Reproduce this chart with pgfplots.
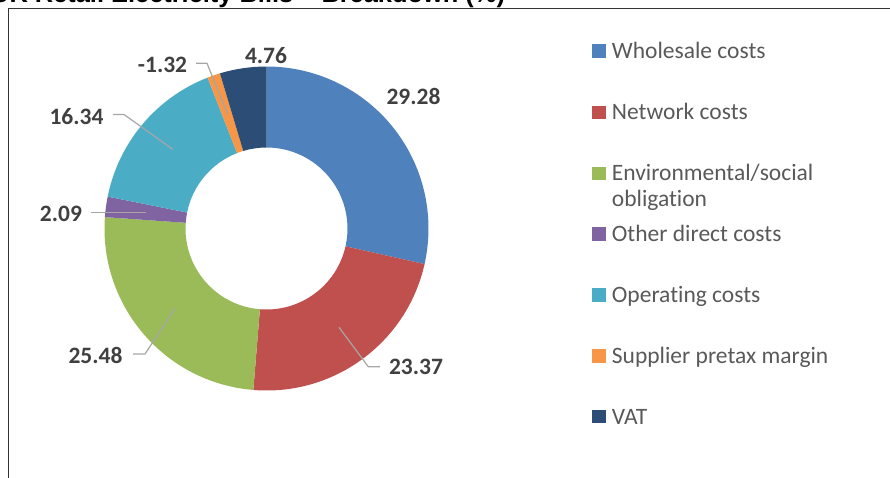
\documentclass[border=0pt]{standalone}
\usepackage{pgfplots}
\usepackage{pgfplotstable}
\pgfplotsset{compat=1.18}
\usepackage{fontspec}
\setmainfont{Carlito}[Ligatures=NoCommon]
\newfontfamily\titlefont{Liberation Sans}

\definecolor{cWhole}{HTML}{4F81BD}
\definecolor{cNet}{HTML}{C0504D}
\definecolor{cEnv}{HTML}{9BBB59}
\definecolor{cOther}{HTML}{8064A2}
\definecolor{cOper}{HTML}{4BACC6}
\definecolor{cMargin}{HTML}{F79646}
\definecolor{cVat}{HTML}{2C4D75}
\definecolor{lbl}{HTML}{404040}
\definecolor{leg}{HTML}{595959}
\definecolor{leader}{HTML}{A6A6A6}

% slice values (%), label position in picture pixels
\pgfplotstableread{
id  val    lx     ly
0   29.28  413.5  96
1   23.37  416    367
2   25.48  95.5   355.5
3   2.09   61     213.5
4   16.34  76.5   117
5   -1.32  162.5  65
6   4.76   266    56
}\piedata

\begin{document}
\begin{tikzpicture}
\useasboundingbox (0,0) rectangle (890pt,477pt);
\clip (0,0) rectangle (890pt,477pt);

% angles: Excel starts at the top and goes clockwise, using |value|
\def\tot{0}
\pgfplotsforeachungrouped \i in {0,...,6}{%
  \pgfplotstablegetelem{\i}{val}\of\piedata
  \pgfmathsetmacro\tot{\tot+abs(\pgfplotsretval)}%
}
\pgfmathsetmacro\degper{360/\tot}
\def\cum{0}
\pgfplotsforeachungrouped \i in {0,...,6}{%
  \pgfplotstablegetelem{\i}{val}\of\piedata
  \let\v\pgfplotsretval
  \pgfmathsetmacro\angA{90-\cum*\degper}%
  \pgfmathsetmacro\cum{\cum+abs(\v)}%
  \pgfmathsetmacro\angB{90-\cum*\degper}%
  \expandafter\xdef\csname sa\i\endcsname{\angA}%
  \expandafter\xdef\csname sb\i\endcsname{\angB}%
  \pgfplotstablegetelem{\i}{lx}\of\piedata
  \expandafter\xdef\csname lx\i\endcsname{\pgfplotsretval}%
  \pgfplotstablegetelem{\i}{ly}\of\piedata
  \expandafter\xdef\csname ly\i\endcsname{\pgfplotsretval}%
  \expandafter\xdef\csname lv\i\endcsname{\v}%
}

\begin{axis}[
    scale only axis,
    width=890pt, height=477pt,
    xmin=0, xmax=890,
    ymin=0, ymax=477,
    y dir=reverse,
    hide axis,
    clip=false,
]

% doughnut
\def\cx{266.5}\def\cy{228.5}
\pgfplotsinvokeforeach{0,...,6}{%
  \ifcase#1 \def\col{cWhole}\or\def\col{cNet}\or\def\col{cEnv}\or\def\col{cOther}\or\def\col{cOper}\or\def\col{cMargin}\or\def\col{cVat}\fi
  \edef\temp{\noexpand\fill[\col] (axis cs:\cx,\cy) ++(\csname sa#1\endcsname:162pt)
    arc[start angle=\csname sa#1\endcsname, end angle=\csname sb#1\endcsname, radius=162pt]
    -- ++(\csname sb#1\endcsname+180:81pt)
    arc[start angle=\csname sb#1\endcsname, end angle=\csname sa#1\endcsname, radius=81pt] -- cycle;}
  \temp
}

% leader lines
\draw[leader, line width=1.2pt] (axis cs:196,63.3) -- (axis cs:207,63.3) -- (axis cs:227.7,114);
\draw[leader, line width=1.2pt] (axis cs:113,114.5) -- (axis cs:124,114.5) -- (axis cs:172.7,149.3);
\draw[leader, line width=1.2pt] (axis cs:91,212.3) -- (axis cs:146,212.3);
\draw[leader, line width=1.2pt] (axis cs:133,354) -- (axis cs:145,354) -- (axis cs:175,308.3);
\draw[leader, line width=1.2pt] (axis cs:380,366.7) -- (axis cs:368.3,366.7) -- (axis cs:339,327.3);

% data labels
\pgfplotsinvokeforeach{0,...,6}{%
  \edef\temp{\noexpand\node[text=lbl, inner sep=0pt, font=\noexpand\bfseries\noexpand\fontsize{23.5}{28}\noexpand\selectfont]
    at (axis cs:\csname lx#1\endcsname,\csname ly#1\endcsname) {\csname lv#1\endcsname};}
  \temp
}

% legend
\foreach \yy/\cc/\lt in {51/cWhole/Wholesale costs, 112.3/cNet/Network costs,
  173.3/cEnv/Environmental\slash social, 234/cOther/Other direct costs,
  295/cOper/Operating costs, 356/cMargin/Supplier pretax margin, 416.7/cVat/VAT}{%
  \edef\temp{\noexpand\fill[\cc] (axis cs:592,\yy-6.7) rectangle (axis cs:605.7,\yy+6.7);
    \noexpand\node[anchor=base west, inner sep=0pt, text=leg, font=\noexpand\fontsize{23.5}{28}\noexpand\selectfont]
      at (axis cs:611.7,\yy+7.3) {\unexpanded\expandafter{\lt}};}
  \temp
}
\node[anchor=base west, inner sep=0pt, text=leg, font=\fontsize{23.5}{28}\selectfont]
  at (axis cs:611.7,206.7) {obligation};

% chart frame and clipped title
\draw[black!80, line width=1.3pt] (axis cs:8.3,485) -- (axis cs:8.3,8.7) -- (axis cs:900,8.7);
\node[anchor=base west, inner sep=0pt, font=\titlefont\bfseries\fontsize{25.4}{30}\selectfont]
  at (axis cs:-9,2.7) {UK Retail Electricity Bills – Breakdown (\%)};
\end{axis}
\end{tikzpicture}
\end{document}
